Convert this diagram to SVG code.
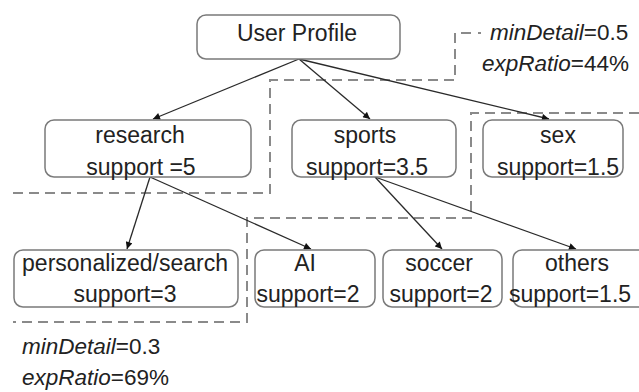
<svg xmlns="http://www.w3.org/2000/svg" width="639" height="392" viewBox="0 0 639 392">
<style>
.box{fill:#fff;stroke:#7a7a7a;stroke-width:1.5}
.t{font-family:"Liberation Sans",Arial,sans-serif;font-size:23px;fill:#222;text-anchor:middle}
.l{font-family:"Liberation Sans",Arial,sans-serif;font-size:22.5px;fill:#222}
.i{font-style:italic}
.dash{fill:none;stroke:#8a8a8a;stroke-width:2;stroke-dasharray:10 6}
.arr{stroke:#2a2a2a;stroke-width:1.3;fill:none;marker-end:url(#ah)}
</style>
<defs>
<marker id="ah" viewBox="0 0 10 10" refX="10" refY="5" markerWidth="8" markerHeight="7" markerUnits="userSpaceOnUse" orient="auto">
<path d="M0,0 L10,5 L0,10 z" fill="#111"/>
</marker>
</defs>
<rect width="639" height="392" fill="#fff"/>
<g id="regions">
<path class="dash" d="M13,193 H270 V80 H455 V33 H472"/>
<path class="dash" d="M478,33 H481"/>
<path class="dash" d="M639,113 H471 V218 H247 V322 H13"/>
</g>
<g id="connectors">
<line class="arr" x1="299" y1="59" x2="153" y2="119"/>
<line class="arr" x1="299" y1="59" x2="370" y2="119"/>
<line class="arr" x1="299" y1="59" x2="549" y2="119"/>
<line class="arr" x1="150" y1="177" x2="127" y2="249"/>
<line class="arr" x1="150" y1="177" x2="311" y2="249"/>
<line class="arr" x1="375" y1="177" x2="442" y2="249"/>
<line class="arr" x1="375" y1="177" x2="576" y2="249"/>
</g>
<g id="user-profile">
<rect class="box" x="197" y="15" width="203" height="44" rx="9"/>
<text class="t" x="297" y="41">User Profile</text>
</g>
<g id="research">
<rect class="box" x="45" y="120" width="206" height="57" rx="9"/>
<text class="t" x="140" y="143">research</text>
<text class="t" x="141" y="175">support =5</text>
</g>
<g id="sports">
<rect class="box" x="292" y="120" width="164" height="57" rx="9"/>
<text class="t" x="365" y="143">sports</text>
<text class="t" x="367" y="175">support=3.5</text>
</g>
<g id="sex">
<rect class="box" x="483" y="120" width="140" height="57" rx="9"/>
<text class="t" x="558" y="143">sex</text>
<text class="t" x="558" y="175">support=1.5</text>
</g>
<g id="personalized-search">
<rect class="box" x="14" y="250" width="224" height="57" rx="9"/>
<text class="t" x="125" y="271">personalized/search</text>
<text class="t" x="125" y="302">support=3</text>
</g>
<g id="ai">
<rect class="box" x="255" y="250" width="120" height="57" rx="9"/>
<text class="t" x="305" y="271">AI</text>
<text class="t" x="308" y="302">support=2</text>
</g>
<g id="soccer">
<rect class="box" x="383" y="250" width="119" height="57" rx="9"/>
<text class="t" x="439" y="271">soccer</text>
<text class="t" x="441" y="302">support=2</text>
</g>
<g id="others">
<rect class="box" x="513" y="250" width="135" height="57" rx="9"/>
<text class="t" x="577" y="271">others</text>
<text class="t" x="570" y="302">support=1.5</text>
</g>
<g id="labels">
<text class="l" x="490" y="40"><tspan class="i">minDetail</tspan>=0.5</text>
<text class="l" x="482" y="71"><tspan class="i">expRatio</tspan>=44%</text>
<text class="l" x="22" y="354"><tspan class="i">minDetail</tspan>=0.3</text>
<text class="l" x="22" y="385"><tspan class="i">expRatio</tspan>=69%</text>
</g>
</svg>
